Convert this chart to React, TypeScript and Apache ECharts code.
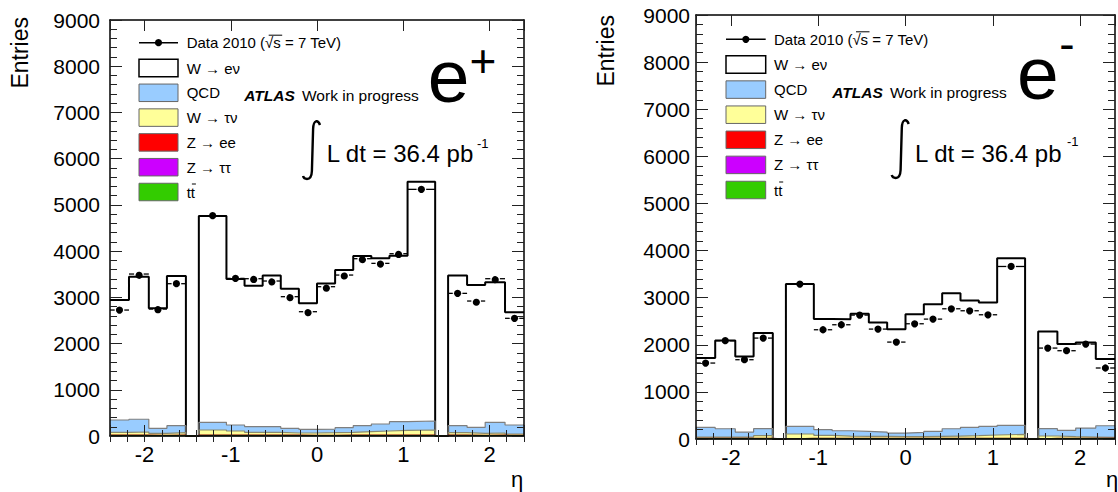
import React, { useEffect, useRef } from 'react';
import * as echarts from 'echarts';

const FONT = '"Liberation Sans", Arial, Helvetica, sans-serif';

// eta bin edges (22 bins, bins 5 and 18 are the calorimeter crack)
const etaEdges = [-2.4, -2.18, -1.95, -1.74, -1.52, -1.37, -1.05, -0.84, -0.63, -0.42, -0.21, 0, 0.21, 0.42, 0.63, 0.84, 1.05, 1.37, 1.52, 1.74, 1.95, 2.18, 2.4];
const xTickLabels = ['-2', '-1', '0', '1', '2'];
const yMin = 0;
const yMax = 9000;
const yStep = 1000;

// ---- e+ panel ----
const posData = [2725, 3504, 2747, 3295, null, 4766, 3410, 3403, 3353, 3014, 2689, 3230, 3482, 3836, 3735, 3944, 5336, null, 3086, 2920, 3403, 2546];
const posWenu = [2596, 3085, 2596, 3237, 0, 4463, 3158, 3050, 3273, 3021, 2726, 3151, 3411, 3669, 3583, 3590, 5176, 0, 3251, 3079, 3028, 2437];
const posQCD = [267, 276, 108, 152, 0, 166, 130, 123, 123, 101, 79, 79, 101, 130, 152, 187, 195, 0, 152, 129, 231, 195];
const posWtaunu = [62, 68, 42, 55, 0, 110, 89, 62, 62, 48, 49, 55, 62, 77, 90, 103, 110, 0, 55, 42, 48, 28];
const posZee = [12, 13, 11, 12, 0, 15, 14, 13, 12, 12, 11, 11, 12, 12, 13, 15, 15, 0, 12, 11, 12, 10];
const posZtautau = [3, 3, 3, 3, 0, 3, 3, 3, 3, 3, 3, 3, 3, 3, 3, 3, 3, 0, 3, 3, 3, 3];
const posTtbar = [2, 2, 2, 2, 0, 2, 2, 2, 2, 2, 2, 2, 2, 2, 2, 2, 2, 0, 2, 2, 2, 2];

// ---- e- panel ----
const negData = [1612, 2086, 1683, 2142, null, 3288, 2319, 2425, 2630, 2333, 2057, 2446, 2545, 2764, 2722, 2637, 3662, null, 1930, 1874, 2015, 1507];
const negWenu = [1471, 1874, 1605, 2029, 0, 3020, 2347, 2369, 2496, 2327, 2206, 2510, 2701, 2878, 2694, 2631, 3549, 0, 2065, 1832, 1817, 1415];
const negQCD = [205, 177, 106, 149, 0, 162, 120, 112, 105, 91, 77, 91, 105, 155, 176, 183, 191, 0, 155, 133, 191, 247];
const negWtaunu = [29, 29, 29, 57, 0, 93, 65, 51, 44, 44, 37, 37, 44, 51, 58, 72, 86, 0, 51, 37, 29, 22];
const negZee = [9, 9, 9, 10, 0, 10, 10, 9, 9, 9, 9, 9, 9, 9, 10, 10, 10, 0, 10, 9, 9, 9];
const negZtautau = [2, 2, 2, 2, 0, 2, 2, 2, 2, 2, 2, 2, 2, 2, 2, 2, 2, 0, 2, 2, 2, 2];
const negTtbar = [1, 1, 1, 1, 0, 1, 1, 1, 1, 1, 1, 1, 1, 1, 1, 1, 1, 0, 1, 1, 1, 1];

const legendLabels = ['W \u2192 e\u03bd', 'QCD', 'W \u2192 \u03c4\u03bd', 'Z \u2192 ee', 'Z \u2192 \u03c4\u03c4', 'tt'];
const stackColors = ['#ffffff', '#99ccff', '#ffff99', '#ff0000', '#cc00ff', '#33cc00'];
const stackLineColors = ['#000000', '#7f7f7f', '#8a8a70', '#7f0000', '#660080', '#1a6600'];
const dataLabel = 'Data 2010 (\u221As = 7 TeV)';
const lumiLabel = 'L dt = 36.4 pb';

echarts.graphic.registerShape(
  'integralSign',
  echarts.graphic.extendPath('M17 4 C16 1 14.5 0 13 0.3 C11 0.8 10.3 3 10.1 8 L8.9 50 C8.7 55 7 58 4 58 C2 58 0.6 57 0 55', {})
);

function stepData(values: number[]) {
  return etaEdges.map((e, i) => [e, values[Math.min(i, values.length - 1)]]);
}

function cumulative(layers: number[][]) {
  const out: number[][] = [];
  let acc = layers[0].map(() => 0);
  for (const l of layers) {
    acc = acc.map((a, i) => a + l[i]);
    out.push(acc.slice());
  }
  return out;
}

function pointData(values: (number | null)[]) {
  const out: number[][] = [];
  values.forEach((v, i) => {
    if (v == null) return;
    const lo = etaEdges[i];
    const hi = etaEdges[i + 1];
    out.push([(lo + hi) / 2, v, lo, hi]);
  });
  return out;
}

interface PanelLayout {
  grid: { left: number; top: number; width: number; height: number };
  yLabelMargin: number;
  legend: { lineX0: number; lineX1: number; textX: number; dataY: number; rowY0: number; rowStep: number; boxH: number };
  atlas: { x: number; y: number; workX: number };
  charge: { x: number; y: number; sign: string; signX: number; signY: number };
  lumi: { intX: number; intY: number; textX: number; y: number; supX: number; supY: number };
  entries: { x: number; y: number };
  eta: { x: number; y: number };
}

const leftLayout: PanelLayout = {
  grid: { left: 110, top: 20, width: 414, height: 416 },
  yLabelMargin: 10,
  legend: { lineX0: 139, lineX1: 178, textX: 186.7, dataY: 42.7, rowY0: 68, rowStep: 24.8, boxH: 17.5 },
  atlas: { x: 244.3, y: 95.7, workX: 302 },
  charge: { x: 427.7, y: 76, sign: '+', signX: 483, signY: 61 },
  lumi: { intX: 303, intY: 121, textX: 326.7, y: 153, supX: 477, supY: 143 },
  entries: { x: 20, y: 17 },
  eta: { x: 517, y: 479 },
};

const rightLayout: PanelLayout = {
  grid: { left: 696, top: 15, width: 420, height: 424 },
  yLabelMargin: 6,
  legend: { lineX0: 726, lineX1: 765.7, textX: 774, dataY: 39.3, rowY0: 64.5, rowStep: 25.1, boxH: 17.5 },
  atlas: { x: 832.3, y: 92.7, workX: 890 },
  charge: { x: 1017, y: 73, sign: '-', signX: 1067, signY: 44 },
  lumi: { intX: 891.7, intY: 120, textX: 915, y: 153, supX: 1067, supY: 141 },
  entries: { x: 606, y: 15 },
  eta: { x: 1112, y: 479 },
};

function xAxes(gridIndex: number) {
  const main = (position: string, labels: boolean) => ({
    type: 'value',
    gridIndex,
    position,
    min: -2.4,
    max: 2.4,
    z: 10,
    splitLine: { show: false },
    axisLine: { show: true, onZero: false, lineStyle: { color: '#000', width: 1.5 } },
    axisTick: { show: true, inside: true, length: 11, lineStyle: { color: '#222', width: 1 } },
    axisLabel: labels
      ? {
          show: true,
          fontSize: 22,
          fontFamily: FONT,
          color: '#000',
          margin: 7,
          formatter: (v: number) => {
            const s = String(Math.round(v));
            return Math.abs(v - Math.round(v)) < 1e-6 && xTickLabels.includes(s) ? s : '';
          },
        }
      : { show: false },
  });
  const minor = (position: string) => ({
    type: 'value',
    gridIndex,
    position,
    min: -2.4,
    max: 2.4,
    interval: 0.2,
    z: 10,
    splitLine: { show: false },
    axisLine: { show: false },
    axisTick: { show: true, inside: true, length: 6, lineStyle: { color: '#222', width: 1 } },
    axisLabel: { show: false },
  });
  return [main('bottom', true), minor('bottom'), main('top', false), minor('top')];
}

function yAxes(gridIndex: number, margin: number) {
  const mk = (position: string, labels: boolean) => ({
    type: 'value',
    gridIndex,
    position,
    min: yMin,
    max: yMax,
    interval: yStep,
    z: 10,
    splitLine: { show: false },
    axisLine: { show: true, onZero: false, lineStyle: { color: '#000', width: 1.5 } },
    axisTick: { show: true, inside: true, length: 12, lineStyle: { color: '#222', width: 1 } },
    minorTick: { show: true, splitNumber: 5, length: 7, lineStyle: { color: '#222', width: 1 } },
    axisLabel: labels
      ? { show: true, fontSize: 21, fontFamily: FONT, color: '#000', margin, formatter: (v: number) => String(Math.round(v)) }
      : { show: false },
  });
  return [mk('left', true), mk('right', false)];
}

function panelSeries(
  xIdx: number,
  yIdx: number,
  data: (number | null)[],
  wenu: number[],
  qcd: number[],
  wtaunu: number[],
  zee: number[],
  ztautau: number[],
  ttbar: number[]
) {
  // bottom -> top: ttbar, Z->tautau, Z->ee, W->taunu, QCD, W->enu
  const cum = cumulative([ttbar, ztautau, zee, wtaunu, qcd, wenu]);
  const tops = [cum[5], cum[4], cum[3], cum[2], cum[1], cum[0]];
  const series: any[] = tops.map((vals, k) => ({
    type: 'line',
    name: legendLabels[k],
    xAxisIndex: xIdx,
    yAxisIndex: yIdx,
    step: 'end',
    symbol: 'none',
    silent: true,
    data: stepData(vals),
    lineStyle: { color: stackLineColors[k], width: k === 0 ? 2 : 1.2 },
    areaStyle: { color: stackColors[k], opacity: 1 },
  }));
  series.push({
    type: 'custom',
    name: dataLabel,
    xAxisIndex: xIdx,
    yAxisIndex: yIdx,
    silent: true,
    z: 5,
    encode: { x: 0, y: 1 },
    data: pointData(data),
    renderItem: (params: any, api: any) => {
      const x = api.value(0);
      const y = api.value(1);
      const p = api.coord([x, y]);
      const pl = api.coord([api.value(2), y]);
      const ph = api.coord([api.value(3), y]);
      const r = 3.6;
      const gap = r + 1.2;
      return {
        type: 'group',
        children: [
          { type: 'line', shape: { x1: pl[0], y1: p[1], x2: p[0] - gap, y2: p[1] }, style: { stroke: '#000', lineWidth: 1.3 } },
          { type: 'line', shape: { x1: p[0] + gap, y1: p[1], x2: ph[0], y2: p[1] }, style: { stroke: '#000', lineWidth: 1.3 } },
          { type: 'circle', shape: { cx: p[0], cy: p[1], r }, style: { fill: '#000' } },
        ],
      };
    },
  });
  return series;
}

function panelGraphics(L: PanelLayout) {
  const g: any[] = [];
  const lg = L.legend;
  g.push({ type: 'line', shape: { x1: lg.lineX0, y1: lg.dataY, x2: lg.lineX1, y2: lg.dataY }, style: { stroke: '#000', lineWidth: 1.5 }, z: 20 });
  g.push({ type: 'circle', shape: { cx: (lg.lineX0 + lg.lineX1) / 2, cy: lg.dataY, r: 3.6 }, style: { fill: '#000' }, z: 20 });
  g.push({
    type: 'text', x: lg.textX, y: lg.dataY, z: 20,
    style: { text: dataLabel, fontSize: 15, fontFamily: FONT, fill: '#000', align: 'left', verticalAlign: 'middle' },
  });
  g.push({ type: 'line', shape: { x1: lg.textX + 82, y1: lg.dataY - 7.5, x2: lg.textX + 95.5, y2: lg.dataY - 7.5 }, style: { stroke: '#000', lineWidth: 1 }, z: 20 });
  legendLabels.forEach((lab, k) => {
    const cy = lg.rowY0 + k * lg.rowStep;
    g.push({
      type: 'rect', z: 20,
      shape: { x: lg.lineX0, y: cy - lg.boxH / 2, width: lg.lineX1 - lg.lineX0, height: lg.boxH },
      style: { fill: stackColors[k], stroke: k === 0 ? '#000' : '#666', lineWidth: k === 0 ? 1.5 : 1 },
    });
    g.push({
      type: 'text', x: lg.textX, y: cy, z: 20,
      style: { text: lab, fontSize: 15, fontFamily: FONT, fill: '#000', align: 'left', verticalAlign: 'middle' },
    });
    if (k === 5) {
      g.push({ type: 'line', shape: { x1: lg.textX + 5.2, y1: cy - 8, x2: lg.textX + 9.2, y2: cy - 8 }, style: { stroke: '#000', lineWidth: 1 }, z: 20 });
    }
  });
  g.push({
    type: 'text', x: L.atlas.x, y: L.atlas.y, z: 20,
    style: { text: 'ATLAS', fontSize: 15.5, fontWeight: 'bold', fontStyle: 'italic', fontFamily: FONT, fill: '#000', align: 'left', verticalAlign: 'middle' },
  });
  g.push({
    type: 'text', x: L.atlas.workX, y: L.atlas.y, z: 20,
    style: { text: 'Work in progress', fontSize: 15.5, fontFamily: FONT, fill: '#000', align: 'left', verticalAlign: 'middle' },
  });
  g.push({
    type: 'text', x: L.charge.x, y: L.charge.y, z: 20,
    style: { text: 'e', fontSize: 75, fontFamily: FONT, fill: '#000', align: 'left', verticalAlign: 'middle' },
  });
  g.push({
    type: 'text', x: L.charge.signX, y: L.charge.signY, z: 20,
    style: { text: L.charge.sign, fontSize: 46, fontFamily: FONT, fill: '#000', align: 'center', verticalAlign: 'middle' },
  });
  g.push({ type: 'integralSign', x: L.lumi.intX, y: L.lumi.intY, z: 20, style: { stroke: '#000', fill: 'none', lineWidth: 2.4 } });
  g.push({
    type: 'text', x: L.lumi.textX, y: L.lumi.y, z: 20,
    style: { text: lumiLabel, fontSize: 24, fontFamily: FONT, fill: '#000', align: 'left', verticalAlign: 'middle' },
  });
  g.push({
    type: 'text', x: L.lumi.supX, y: L.lumi.supY, z: 20,
    style: { text: '-1', fontSize: 13, fontFamily: FONT, fill: '#000', align: 'left', verticalAlign: 'middle' },
  });
  g.push({
    type: 'text', x: L.entries.x, y: L.entries.y, rotation: Math.PI / 2, z: 20,
    style: { text: 'Entries', fontSize: 23, fontFamily: FONT, fill: '#000', align: 'right', verticalAlign: 'middle' },
  });
  g.push({
    type: 'text', x: L.eta.x, y: L.eta.y, z: 20,
    style: { text: '\u03b7', fontSize: 22, fontFamily: FONT, fill: '#000', align: 'center', verticalAlign: 'middle' },
  });
  return g;
}

export default function App() {
  const ref = useRef<HTMLDivElement>(null);
  useEffect(() => {
    if (!ref.current) return;
    const chart = echarts.init(ref.current, undefined, { renderer: 'svg' });
    const option: any = {
      animation: false,
      backgroundColor: '#ffffff',
      textStyle: { fontFamily: FONT },
      grid: [
        { ...leftLayout.grid, containLabel: false },
        { ...rightLayout.grid, containLabel: false },
      ],
      xAxis: [...xAxes(0), ...xAxes(1)],
      yAxis: [...yAxes(0, leftLayout.yLabelMargin), ...yAxes(1, rightLayout.yLabelMargin)],
      series: [
        ...panelSeries(0, 0, posData, posWenu, posQCD, posWtaunu, posZee, posZtautau, posTtbar),
        ...panelSeries(4, 2, negData, negWenu, negQCD, negWtaunu, negZee, negZtautau, negTtbar),
      ],
      graphic: [...panelGraphics(leftLayout), ...panelGraphics(rightLayout)],
    };
    chart.setOption(option);
    return () => chart.dispose();
  }, []);
  return <div ref={ref} style={{ position: 'fixed', left: 0, top: 0, width: 1118, height: 492, background: '#fff' }} />;
}
